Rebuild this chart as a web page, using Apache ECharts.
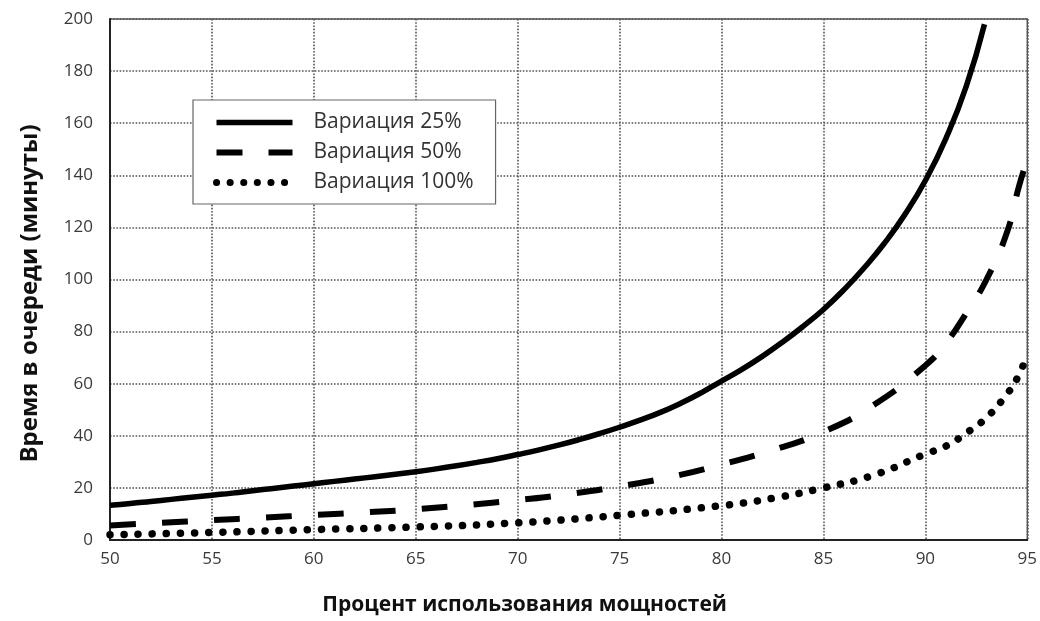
<!DOCTYPE html>
<html><head><meta charset="utf-8">
<script src="https://cdn.jsdelivr.net/npm/echarts@6/dist/echarts.min.js"></script>
<style>html,body{margin:0;padding:0;background:#fff}#c{width:1040px;height:621px}</style>
</head><body><div id="c"></div>
<script>
const seriesNames = ['Вариация 25%', 'Вариация 50%', 'Вариация 100%'];
const xTitle = 'Процент использования мощностей';
const yTitle = 'Время в очереди (минуты)';

const x25 = [50,51,52,53,54,55,56,57,58,59,60,61,62,63,64,65,66,67,68,69,70,71,72,73,74,75,76,77,78,79,80,81,82,83,84,85,86,87,88,89,90,91,92,92.9];
const y25 = [13.3,14,14.8,15.6,16.4,17.2,18,18.9,19.8,20.7,21.6,22.5,23.4,24.3,25.2,26.2,27.3,28.5,29.8,31.2,32.8,34.5,36.4,38.5,40.8,43.3,46,49,52.5,56.5,61,65.5,70.5,76,82,88.5,96,104.5,114,125,138,154,174,198];

const x50 = [50,52.5,55,57.5,60,62.5,65,67.5,70,72.5,75,77.5,80,82.5,85,87.5,90,91,92,93,94,94.6,95];
const y50 = [5.6,6.6,7.6,8.6,9.6,10.6,11.8,13.4,15.3,17.6,20.6,24.2,29,34.5,41.5,52,67,75.5,87,100,118,136,146];

const x100 = [50,55,60,65,70,75,80,82.5,85,87.5,90,91,92,93,94,94.5,95];
const y100 = [2,2.9,4,5,6.6,9.5,13.2,16,20,25,33,36,41,47,56,62,71];

const xMin = 50, xMax = 95, xStep = 5;
const yMin = 0, yMax = 200, yStep = 20;

const zip = (xs, ys) => xs.map((x, i) => [x, ys[i]]);
const chart = echarts.init(document.getElementById('c'));
const font = '"Open Sans", "Noto Sans", sans-serif';
const styles = [
  { color: '#000', width: 5.5 },
  { color: '#000', width: 6, type: [26, 26] },
  { color: '#000', width: 7.5, type: [0.1, 14], cap: 'round' }
];
chart.setOption({
  animation: false,
  backgroundColor: '#fff',
  grid: { left: 110, right: 12, top: 19, bottom: 81, show: true, borderColor: '#555', borderWidth: 1.5, backgroundColor: 'transparent' },
  legend: {
    left: 193, top: 100, orient: 'vertical',
    backgroundColor: '#fff', borderColor: '#666', borderWidth: 1.2,
    padding: [12, 22, 11, 20], itemWidth: 76, itemHeight: 20, itemGap: 9,
    itemStyle: { opacity: 0 },
    textStyle: { fontFamily: font, fontSize: 21, color: '#333', padding: [0, 0, 0, 16] },
    data: seriesNames.map((n, i) => ({ name: n, lineStyle: Object.assign({}, styles[i], i === 2 ? { width: 7, type: [0.1, 13.5] } : {}) }))
  },
  xAxis: {
    type: 'value', min: xMin, max: xMax, interval: xStep,
    name: xTitle, nameLocation: 'middle', nameGap: 55,
    nameTextStyle: { fontFamily: font, fontSize: 21, fontWeight: 'bold', color: '#111', padding: [0, 88, 0, 0] },
    axisLine: { show: true, lineStyle: { color: '#222', width: 2 } },
    axisTick: { show: false },
    axisLabel: { fontFamily: font, fontSize: 17, color: '#3a3a3a', margin: 11 },
    splitLine: { show: true, lineStyle: { type: 'dotted', color: '#555', width: 1.6 } }
  },
  yAxis: {
    type: 'value', min: yMin, max: yMax, interval: yStep,
    name: yTitle, nameLocation: 'middle', nameGap: 68, nameRotate: 90,
    nameTextStyle: { fontFamily: font, fontSize: 24, fontWeight: 'bold', color: '#111', padding: [0, 28, 0, 0] },
    axisLine: { show: true, lineStyle: { color: '#222', width: 2 } },
    axisTick: { show: false },
    axisLabel: { fontFamily: font, fontSize: 17, color: '#3a3a3a', margin: 17 },
    splitLine: { show: true, lineStyle: { type: 'dotted', color: '#555', width: 1.6 } }
  },
  series: [
    { name: seriesNames[0], type: 'line', smooth: true, symbol: 'none', data: zip(x25, y25),
      lineStyle: styles[0], itemStyle: { color: '#000' } },
    { name: seriesNames[1], type: 'line', smooth: true, symbol: 'none', data: zip(x50, y50),
      lineStyle: styles[1], itemStyle: { color: '#000' } },
    { name: seriesNames[2], type: 'line', smooth: true, symbol: 'none', data: zip(x100, y100),
      lineStyle: styles[2], itemStyle: { color: '#000' } }
  ]
});
</script></body></html>
